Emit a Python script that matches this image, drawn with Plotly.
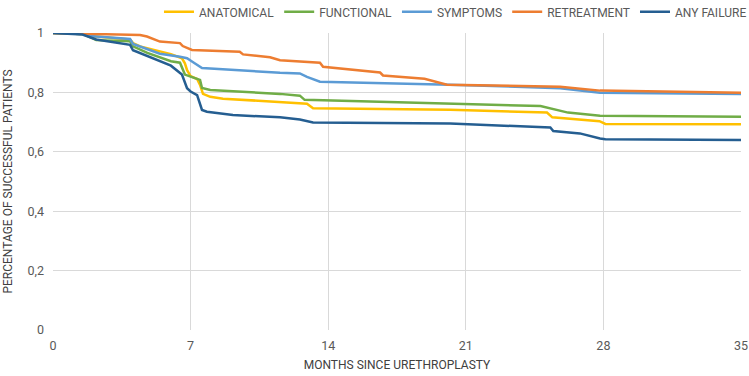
import plotly.graph_objects as go

# ---- data ----
anat_x = [0, 1.5, 1.88, 3.92, 4.07, 4.43, 5.44, 6.0, 6.56, 6.71, 6.82, 7.0, 7.33, 7.48, 7.63, 8.0, 8.65, 11.55, 12.92, 13.23, 20.2, 25.13, 25.4, 27.8, 28.1, 35]
anat_y = [1.0, 0.997, 0.99, 0.978, 0.966, 0.955, 0.938, 0.929, 0.915, 0.898, 0.875, 0.855, 0.845, 0.825, 0.795, 0.785, 0.779, 0.766, 0.762, 0.747, 0.742, 0.732, 0.716, 0.703, 0.694, 0.693]

func_x = [0, 1.5, 1.88, 2.2, 3.92, 4.07, 4.8, 5.44, 6.0, 6.46, 6.71, 7.0, 7.48, 7.58, 8.0, 11.55, 12.56, 12.8, 20.2, 24.8, 26.2, 27.83, 35]
func_y = [1.0, 0.997, 0.986, 0.976, 0.972, 0.955, 0.933, 0.918, 0.905, 0.9, 0.86, 0.853, 0.842, 0.815, 0.808, 0.795, 0.789, 0.775, 0.763, 0.754, 0.732, 0.721, 0.718]

symp_x = [0, 1.5, 1.88, 3.92, 4.07, 4.43, 5.44, 6.46, 6.82, 7.07, 7.38, 7.58, 11.55, 12.56, 12.92, 13.58, 20.2, 25.8, 27.83, 35]
symp_y = [1.0, 0.997, 0.99, 0.98, 0.963, 0.955, 0.93, 0.92, 0.915, 0.904, 0.892, 0.882, 0.866, 0.864, 0.852, 0.836, 0.826, 0.814, 0.799, 0.795]

retr_x = [0, 2.9, 4.43, 4.78, 5.2, 5.44, 6.46, 6.6, 7.07, 9.5, 9.67, 11.04, 11.55, 13.58, 13.74, 16.64, 16.79, 18.9, 20.04, 25.8, 27.83, 35]
retr_y = [1.0, 0.997, 0.993, 0.988, 0.978, 0.971, 0.966, 0.956, 0.943, 0.937, 0.928, 0.918, 0.908, 0.9, 0.886, 0.867, 0.857, 0.846, 0.826, 0.819, 0.806, 0.799]

any_x = [0, 1.5, 2.2, 3.92, 4.07, 4.8, 5.44, 6.0, 6.56, 6.82, 7.0, 7.33, 7.58, 7.83, 9.15, 11.55, 12.56, 13.23, 20.2, 23.75, 25.3, 25.45, 26.8, 27.83, 28.1, 35]
any_y = [1.0, 0.995, 0.978, 0.96, 0.942, 0.922, 0.905, 0.89, 0.86, 0.814, 0.803, 0.791, 0.741, 0.735, 0.724, 0.716, 0.709, 0.699, 0.695, 0.687, 0.682, 0.67, 0.662, 0.645, 0.642, 0.64]

series_names = ["ANATOMICAL", "FUNCTIONAL", "SYMPTOMS", "RETREATMENT", "ANY FAILURE"]
series_colors = ["#FFC000", "#70AD47", "#5B9BD5", "#ED7D31", "#255E91"]
x_ticks = [0, 7, 14, 21, 28, 35]
y_ticks = [0, 0.2, 0.4, 0.6, 0.8, 1]

FONT = "Roboto, Arial, sans-serif"
GRAY = "#595959"

fig = go.Figure()
for name, xs, ys, col in zip(series_names,
                             [anat_x, func_x, symp_x, retr_x, any_x],
                             [anat_y, func_y, symp_y, retr_y, any_y],
                             series_colors):
    fig.add_trace(go.Scatter(x=xs, y=ys, mode="lines", name=name,
                             line=dict(color=col, width=2.5)))

fig.update_layout(
    width=749, height=376,
    margin=dict(l=53, r=8, t=33, b=46, autoexpand=False),
    paper_bgcolor="white", plot_bgcolor="white",
    separators=", ",
    font=dict(family=FONT, size=12, color=GRAY),
    showlegend=True,
    legend=dict(orientation="h", x=0.585, xanchor="center", y=1.12, yanchor="top",
                font=dict(family=FONT, size=12, color=GRAY),
                itemwidth=30, tracegroupgap=0, bgcolor="rgba(0,0,0,0)"),
    xaxis=dict(range=[0, 35], tickvals=x_ticks, showgrid=True, gridcolor="#D9D9D9",
               gridwidth=1, zeroline=False, showline=False, ticks="",
               ticklabelstandoff=6, automargin=False,
               tickfont=dict(family=FONT, size=12.5, color=GRAY),
               title=dict(text="MONTHS SINCE URETHROPLASTY", standoff=9,
                          font=dict(family=FONT, size=12, color="#404040"))),
    yaxis=dict(range=[0, 1], tickvals=y_ticks, showgrid=True, gridcolor="#D9D9D9",
               gridwidth=1, zeroline=False, showline=False, ticks="",
               ticklabelstandoff=8, automargin=False,
               tickfont=dict(family=FONT, size=12.5, color=GRAY),
               title=dict(text="PERCENTAGE OF SUCCESSFUL PATIENTS", standoff=12,
                          font=dict(family=FONT, size=12, color="#404040"))),
)

fig.write_html("out.html")
